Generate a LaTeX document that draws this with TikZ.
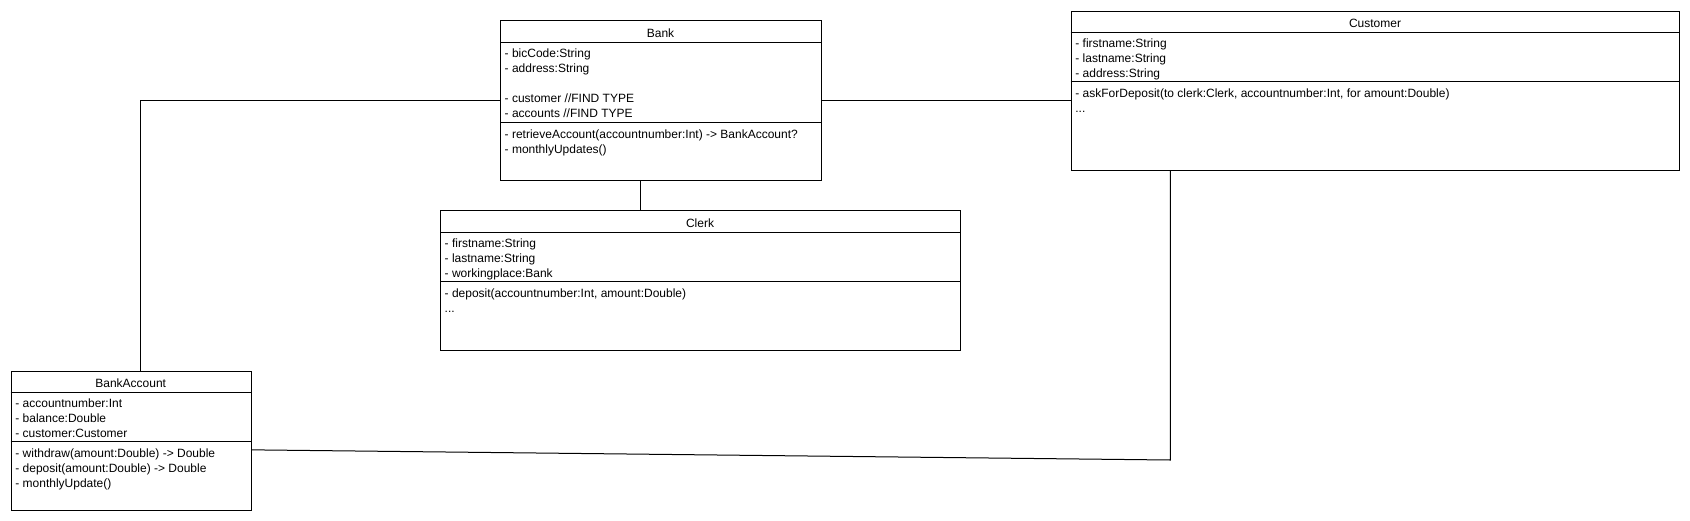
\documentclass[tikz,border=0pt]{standalone}
\usepackage{fontspec}
\setmainfont{Liberation Sans}
\begin{document}
\begin{tikzpicture}[x=1pt,y=-1pt,
  classbox/.style={draw,line width=1pt,inner sep=0pt,anchor=north west},
  titletext/.style={anchor=base,inner sep=0pt,font=\fontsize{12}{15}\selectfont},
  linetext/.style={anchor=base west,inner sep=0pt,font=\fontsize{12}{15}\selectfont},
  sepline/.style={line width=1pt},
  conn/.style={line width=1pt}]
\useasboundingbox (0,0) rectangle (1690,520);

% ---------- Bank ----------
\node[classbox,minimum width=321pt,minimum height=159.5pt] (bank) at (500,20) {};
\draw[sepline] (500,42.5) -- (821,42.5);
\draw[sepline] (500,122.5) -- (821,122.5);
\node[titletext] (bankT) at (660.5,37) {Bank};
\node[linetext] (bankA1) at (504.5,57) {- bicCode:String};
\node[linetext] (bankA2) at (504.5,72) {- address:String};
\node[linetext] (bankA3) at (504.5,102) {- customer //FIND TYPE};
\node[linetext] (bankA4) at (504.5,117) {- accounts //FIND TYPE};
\node[linetext] (bankM1) at (504.5,138.5) {- retrieveAccount(accountnumber:Int) -> BankAccount?};
\node[linetext] (bankM2) at (504.5,153.5) {- monthlyUpdates()};

% ---------- Clerk ----------
\node[classbox,minimum width=520pt,minimum height=140pt] (clerk) at (440,210) {};
\draw[sepline] (440,232) -- (960,232);
\draw[sepline] (440,281.7) -- (960,281.7);
\node[titletext] (clerkT) at (700,227.5) {Clerk};
\node[linetext] (clerkA1) at (444.5,247) {- firstname:String};
\node[linetext] (clerkA2) at (444.5,262) {- lastname:String};
\node[linetext] (clerkA3) at (444.5,277) {- workingplace:Bank};
\node[linetext] (clerkM1) at (444.5,297.7) {- deposit(accountnumber:Int, amount:Double)};
\node[linetext] (clerkM2) at (444.5,312.7) {...};

% ---------- Customer ----------
\node[classbox,minimum width=608.6pt,minimum height=159.5pt] (customer) at (1070.7,10.5) {};
\draw[sepline] (1070.7,32.3) -- (1679.3,32.3);
\draw[sepline] (1070.7,81.7) -- (1679.3,81.7);
\node[titletext] (custT) at (1375,27.5) {Customer};
\node[linetext] (custA1) at (1075.2,47) {- firstname:String};
\node[linetext] (custA2) at (1075.2,62) {- lastname:String};
\node[linetext] (custA3) at (1075.2,77) {- address:String};
\node[linetext] (custM1) at (1075.2,97.7) {- askForDeposit(to clerk:Clerk, accountnumber:Int, for amount:Double)};
\node[linetext] (custM2) at (1075.2,112.7) {...};

% ---------- BankAccount ----------
\node[classbox,minimum width=240pt,minimum height=139.3pt] (account) at (10.7,370.7) {};
\draw[sepline] (10.7,392.3) -- (250.7,392.3);
\draw[sepline] (10.7,441.7) -- (250.7,441.7);
\node[titletext] (accT) at (130.7,387.7) {BankAccount};
\node[linetext] (accA1) at (15.2,407) {- accountnumber:Int};
\node[linetext] (accA2) at (15.2,422) {- balance:Double};
\node[linetext] (accA3) at (15.2,437) {- customer:Customer};
\node[linetext] (accM1) at (15.2,457.7) {- withdraw(amount:Double) -> Double};
\node[linetext] (accM2) at (15.2,472.7) {- deposit(amount:Double) -> Double};
\node[linetext] (accM3) at (15.2,487.7) {- monthlyUpdate()};

% ---------- connectors ----------
\draw[conn] (bank.west) -| ([xshift=9.3pt]account.north);
\draw[conn] (bank.east) -- (bank.east -| customer.west);
\draw[conn] ([xshift=-20.5pt]bank.south) -- ([xshift=-20.5pt]bank.south |- clerk.north);
\coordinate (bend) at (1170.3,460);
\draw[conn] ([yshift=-9pt]account.east) -- (bend) -- (bend |- customer.south);
\end{tikzpicture}
\end{document}
